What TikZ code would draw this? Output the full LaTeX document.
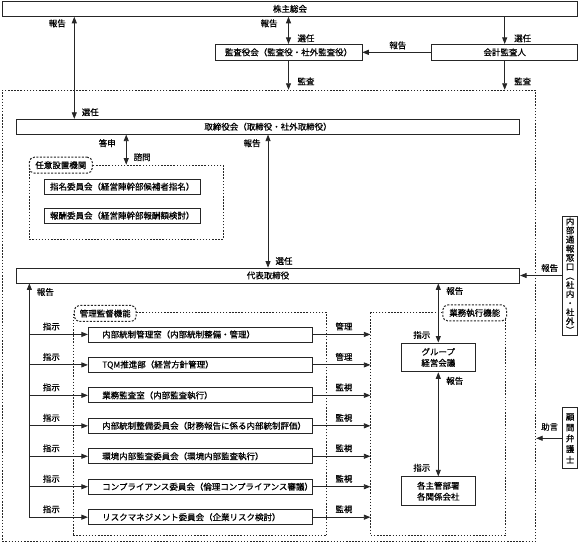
\documentclass[tikz,border=0pt]{standalone}
\usepackage{fontspec}
\setmainfont{Noto Sans CJK JP}[FakeBold=0.5]
\usetikzlibrary{arrows.meta,calc}
\begin{document}
\begin{tikzpicture}[x=1pt,y=-1pt,
  font=\fontsize{8.5}{10}\selectfont,
  line width=0.8pt,
  every path/.style={draw=black!85},
  box/.style={draw=black!85, inner sep=0pt, minimum height=15pt},
  dotbox/.style={draw=black!85, line width=1pt, dash pattern=on 1.5pt off 1.6pt, inner sep=0pt},
  tag/.style={draw=black!85, line width=1pt, dash pattern=on 2pt off 1.5pt, rounded corners=5pt, fill=white, inner sep=0pt, minimum height=16pt},
  lbl/.style={inner sep=0pt},
  arr/.style={-{Triangle[length=6.5pt,width=5pt]}},
  darr/.style={{Triangle[length=6.5pt,width=5pt]}-{Triangle[length=6.5pt,width=5pt]}},
  kbox/.style={box, minimum width=224pt, text width=196pt, align=left, inner xsep=14pt}
]
\useasboundingbox (0,0) rectangle (580,552);
\fill[white] (0,0) rectangle (580,552);

% x reference coordinates
\coordinate (c74) at (74,0);
\coordinate (c126) at (126,0);
\coordinate (c29) at (29,0);

% top level
\node[box, minimum width=576pt] (soukai) at (290,8.5) {株主総会};
\node[box, minimum width=147pt, minimum height=16pt] (kansayaku) at (288.5,52) {監査役会（監査役・社外監査役）};
\node[box, minimum width=146pt, minimum height=16pt] (kaikei) at (505,52) {会計監査人};

% regions
\node[dotbox, minimum width=534pt, minimum height=452pt] (outer) at (269,316) {};
\node[dotbox, minimum width=194pt, minimum height=74pt] (nini) at (126,202) {};
\node[dotbox, minimum width=254pt, minimum height=223pt] (kanri) at (200,424.5) {};
\node[dotbox, minimum width=135pt, minimum height=223pt] (gyomu) at (438.5,424.5) {};

% boards
\node[box, minimum width=504pt] (tori) at (268,126.5) {取締役会（取締役・社外取締役）};
\node[box, minimum width=504pt] (rep) at (268,275.5) {代表取締役};

% optional committees
\node[box, minimum width=156pt] (shimei) at (122,186.5) {指名委員会（経営陣幹部候補者指名）};
\node[box, minimum width=156pt] (houshu) at (122,215.5) {報酬委員会（経営陣幹部報酬額検討）};

% tags
\node[tag, minimum width=63pt] (tagnini) at (60.5,165) {任意設置機関};
\node[tag, minimum width=62pt] (tagkanri) at (105,313.5) {管理監督機能};
\node[tag, minimum width=64pt] (taggyomu) at (475,313) {業務執行機能};

% management boxes
\node[kbox] (k1) at (200,334.5) {内部統制管理室（内部統制整備・管理）};
\node[kbox] (k2) at (200,365) {TQM推進部（経営方針管理）};
\node[kbox] (k3) at (200,395.5) {業務監査室（内部監査執行）};
\node[kbox] (k4) at (200,426) {内部統制整備委員会（財務報告に係る内部統制評価）};
\node[kbox] (k5) at (200,456.5) {環境内部監査委員会（環境内部監査執行）};
\node[kbox] (k6) at (200,487) {コンプライアンス委員会（倫理コンプライアンス審議）};
\node[kbox] (k7) at (200,517.5) {リスクマネジメント委員会（企業リスク検討）};

% execution
\node[box, minimum width=74pt, minimum height=29pt, align=center, font=\fontsize{8.5}{11}\selectfont] (group) at (438.5,357.5) {グループ\\経営会議};
\node[box, minimum width=74pt, minimum height=29pt, align=center, font=\fontsize{8.5}{11}\selectfont] (kaku) at (438.5,491.5) {各主管部署\\各関係会社};

% right side boxes (vertical text)
\node[box, minimum width=15pt, minimum height=119pt, align=center, font=\fontsize{8.5}{9.1}\selectfont] (naibu) at (570.5,275.5) {内\\部\\通\\報\\窓\\口\\︵\\社\\内\\・\\社\\外\\︶};
\node[box, minimum width=15pt, minimum height=61pt, align=center, font=\fontsize{8.5}{10.8}\selectfont] (komon) at (570.5,438.5) {顧\\問\\弁\\護\\士};

% connectors top
\draw[darr] (soukai.south -| c74) -- (tori.north -| c74);
\draw[darr] (soukai.south -| kansayaku) -- (kansayaku.north);
\draw[arr] (soukai.south -| kaikei) -- (kaikei.north);
\draw[arr] (kaikei.west) -- (kansayaku.east);
\draw[arr] (kansayaku.south) -- (kansayaku.south |- outer.north);
\draw[arr] (kaikei.south) -- (kaikei.south |- outer.north);
\draw[darr] (tori.south -| c126) -- (nini.north -| c126);
\draw[darr] (tori.south) -- (rep.north);
\draw[arr] (naibu.west) -- (naibu.west -| rep.east);
\draw[arr] (komon.west) -- (komon.west -| outer.east);

% left instruction tree
\draw[arr] (k7.west -| c29) -- (rep.south -| c29);
\foreach \i in {1,...,7} {
  \draw[arr] (k\i.west -| c29) -- (k\i.west);
  \draw[arr] (k\i.east) -- (k\i.east -| gyomu.west);
}
\draw[darr] (rep.south -| group) -- (group.north);
\draw[darr] (group.south) -- (kaku.north);

% labels
\node[lbl] (t1) at (57,23) {報告};
\node[lbl] (t2) at (90,112) {選任};
\node[lbl] (t3) at (269,23) {報告};
\node[lbl] (t4) at (306,38) {選任};
\node[lbl] (t5) at (398,45) {報告};
\node[lbl] (t6) at (523,38) {選任};
\node[lbl] (t7) at (306,81) {監査};
\node[lbl] (t8) at (523,81) {監査};
\node[lbl] (t9) at (107,143) {答申};
\node[lbl] (t10) at (142,157) {諮問};
\node[lbl] (t11) at (252,143) {報告};
\node[lbl] (t12) at (284,261) {選任};
\node[lbl] (t13) at (550,268) {報告};
\node[lbl] (t14) at (45,292) {報告};
\node[lbl] (t15) at (455,291) {報告};
\node[lbl] (t16) at (422,335) {指示};
\node[lbl] (t17) at (455,381) {報告};
\node[lbl] (t18) at (422,468) {指示};
\node[lbl] (t19) at (550,427) {助言};

\node[lbl] (s1) at (51,326.5) {指示};
\node[lbl] (s2) at (51,357) {指示};
\node[lbl] (s3) at (51,387.5) {指示};
\node[lbl] (s4) at (51,418) {指示};
\node[lbl] (s5) at (51,448.5) {指示};
\node[lbl] (s6) at (51,479) {指示};
\node[lbl] (s7) at (51,509.5) {指示};

\node[lbl] (m1) at (344,326.5) {管理};
\node[lbl] (m2) at (344,357) {管理};
\node[lbl] (m3) at (344,387.5) {監視};
\node[lbl] (m4) at (344,418) {監視};
\node[lbl] (m5) at (344,448.5) {監視};
\node[lbl] (m6) at (344,479) {監視};
\node[lbl] (m7) at (344,509.5) {監視};
\end{tikzpicture}
\end{document}
